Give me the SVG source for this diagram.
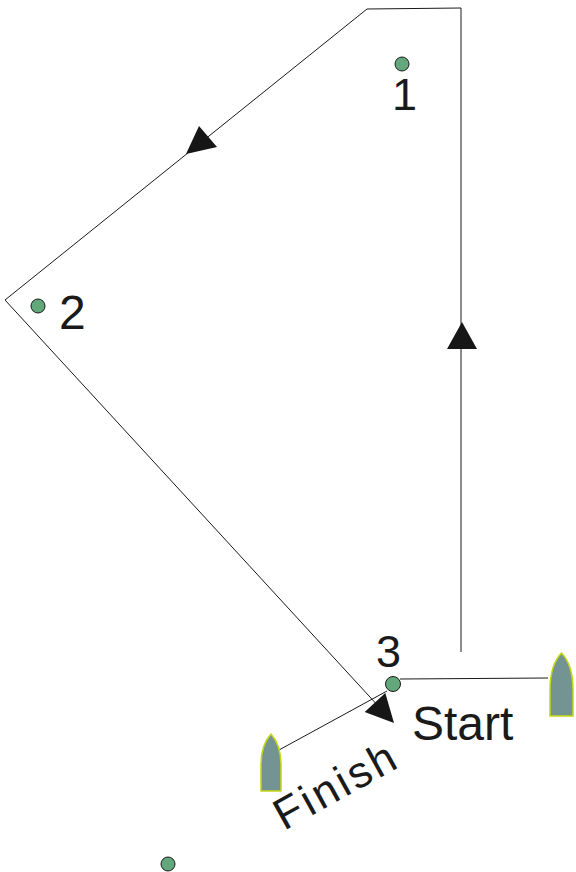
<svg xmlns="http://www.w3.org/2000/svg" width="576" height="872" viewBox="0 0 576 872">
<style>
.mark{fill:#62a87a;stroke:#1a1a1a;stroke-width:1}
.boat{fill:#749494;stroke:#c4d810;stroke-width:1.5}
.lbl{font-family:"Liberation Sans",Arial,sans-serif;fill:#1a1a1a}
.ln{fill:none;stroke:#1a1a1a;stroke-width:1}
.ah{fill:#161616}
</style>
<rect width="576" height="872" fill="#fff"/>
<g id="connectors">
<polyline class="ln" points="461,652 461,8 367,9 5,300 392,721"/>
<polygon class="ah" points="462,322 477,349 447,349"/>
<polygon class="ah" points="186,154 199,126 217,147"/>
<polygon class="ah" points="394,723 364.7,711.9 385.3,692.9"/>
<line class="ln" x1="400" y1="679" x2="548" y2="678"/>
<line class="ln" x1="279" y1="750" x2="387" y2="691"/>
</g>
<g id="mark1"><circle class="mark" cx="402" cy="64" r="7"/><text class="lbl" x="392" y="110" font-size="45">1</text></g>
<g id="mark2"><circle class="mark" cx="38" cy="306" r="7"/><text class="lbl" x="59" y="329" font-size="48">2</text></g>
<g id="mark3"><circle class="mark" cx="393" cy="684" r="7.5"/><text class="lbl" x="376" y="667" font-size="45">3</text></g>
<g id="mark4"><circle class="mark" cx="168" cy="864" r="7"/></g>
<g id="boatStart"><path class="boat" d="M550,716 L550,690 Q550,665 561.5,653 Q573,665 573,690 L573,716 Z"/></g>
<g id="boatFinish"><path class="boat" d="M261,791 L261,765 Q261,745 271,734 Q281,745 281,765 L281,791 Z"/></g>
<g id="startLabel"><text class="lbl" x="412" y="740" font-size="48">Start</text></g>
<g id="finishLabel"><text class="lbl" x="284" y="831" font-size="44" letter-spacing="3" transform="rotate(-29 284 831)">Finish</text></g>
</svg>
